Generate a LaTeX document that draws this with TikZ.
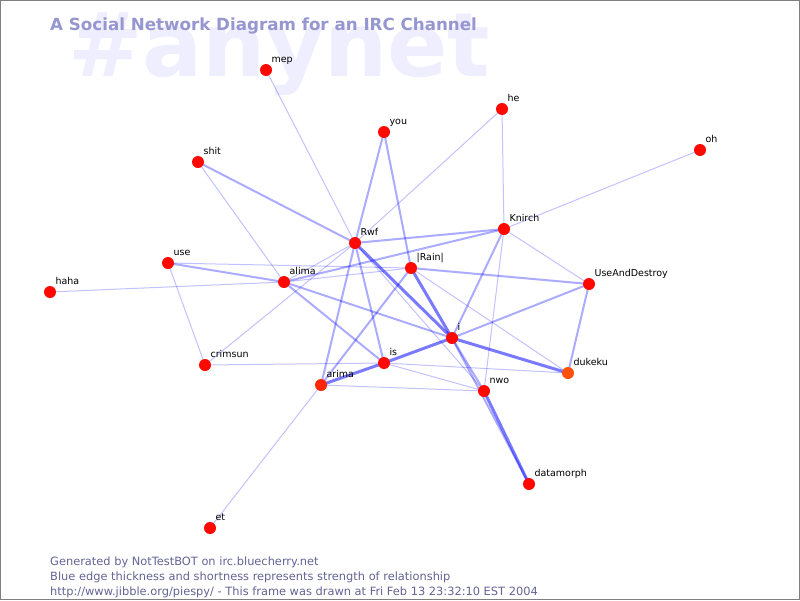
\documentclass[tikz,border=0pt]{standalone}
\usepackage{fontspec}
\setmainfont{DejaVu Sans}
\pgfdeclarelayer{bg}
\pgfdeclarelayer{edges}
\pgfsetlayers{bg,edges,main}
\definecolor{wmc}{RGB}{238,238,255}
\definecolor{titlec}{RGB}{150,150,208}
\definecolor{footc}{RGB}{100,100,150}
\definecolor{dotred}{RGB}{255,8,0}
\definecolor{dotorange}{RGB}{255,80,10}
\definecolor{dotorange2}{RGB}{255,40,5}
\tikzset{
  dot/.style={circle, fill=dotred, minimum size=12pt, inner sep=0pt,
    label={[lab]45:#1}},
  lab/.style={anchor=base west, label distance=0pt, inner sep=0pt, xshift=1pt, yshift=3pt,
    font=\fontsize{9.5}{10}\selectfont, text=black},
  ethin/.style={draw=blue, draw opacity=0.24, line width=1pt},
  emid/.style={draw=blue, draw opacity=0.33, line width=2pt},
  ethick/.style={draw=blue, draw opacity=0.52, line width=3pt},
  foot/.style={anchor=base west, inner sep=0pt, text=footc, font=\fontsize{11.4}{12}\selectfont},
}
\begin{document}
\begin{tikzpicture}[x=1pt,y=-1pt]
\useasboundingbox (0,0) rectangle (800,600);
\begin{pgfonlayer}{bg}
\fill[white] (0,0) rectangle (800,600);
\node[anchor=base west, inner sep=0pt, text=wmc, font=\bfseries\fontsize{89}{89}\selectfont] (wm) at (68,76) {\#anynet};
\end{pgfonlayer}
\node[anchor=base west, inner sep=0pt, text=titlec, font=\bfseries\fontsize{16.7}{17}\selectfont] (title) at (50,30) {A Social Network Diagram for an IRC Channel};

% nodes
\node[dot=mep] (mep) at (266,70) {};
\node[dot=he] (he) at (502,109) {};
\node[dot=you] (you) at (384,132) {};
\node[dot=oh] (oh) at (700,150) {};
\node[dot=shit] (shit) at (198,162) {};
\node[dot=Rwf] (rwf) at (355,243) {};
\node[dot=Knirch] (knirch) at (504,229) {};
\node[dot=use] (use) at (168,263) {};
\node[dot={|Rain|}] (rain) at (411,268) {};
\node[dot=alima] (alima) at (284,282) {};
\node[dot=haha] (haha) at (50,292) {};
\node[dot=UseAndDestroy] (uad) at (589,284) {};
\node[dot=i] (i) at (452,338) {};
\node[dot=crimsun] (crimsun) at (205,365) {};
\node[dot=is] (is) at (384,363) {};
\node[dot=dukeku, fill=dotorange] (dukeku) at (568,373) {};
\node[dot=arima, fill=dotorange2] (arima) at (321,385) {};
\node[dot=nwo] (nwo) at (484,391) {};
\node[dot=datamorph] (datamorph) at (529,484) {};
\node[dot=et] (et) at (210,528) {};

\begin{pgfonlayer}{edges}
\foreach \a/\b in {mep/rwf, he/rwf, he/knirch, oh/knirch, alima/rwf, crimsun/rwf,
  use/crimsun, haha/alima, knirch/uad, knirch/nwo, rain/dukeku, is/dukeku, is/nwo,
  arima/et, rwf/nwo, crimsun/is, use/rain, shit/alima, alima/rain, arima/nwo}
  \draw[ethin] (\a.center) -- (\b.center);
\foreach \a/\b in {shit/rwf, you/rwf, you/rain, use/alima, alima/is, alima/i,
  alima/knirch, rwf/knirch, rwf/arima, rwf/is, rain/arima, rain/uad, knirch/i,
  i/uad, uad/dukeku, i/nwo, i/datamorph}
  \draw[emid] (\a.center) -- (\b.center);
\foreach \a/\b in {rwf/i, rain/i, i/is, is/arima, i/dukeku, nwo/datamorph}
  \draw[ethick] (\a.center) -- (\b.center);
\end{pgfonlayer}

\node[foot] (f1) at (50,565) {Generated by NotTestBOT on irc.bluecherry.net};
\node[foot] (f2) at (50,580) {Blue edge thickness and shortness represents strength of relationship};
\node[foot] (f3) at (50,595) {http://www.jibble.org/piespy/ - This frame was drawn at Fri Feb 13 23:32:10 EST 2004};

\draw[gray, line width=1pt] (0.5,0.5) rectangle (799.5,599.5);
\end{tikzpicture}
\end{document}
